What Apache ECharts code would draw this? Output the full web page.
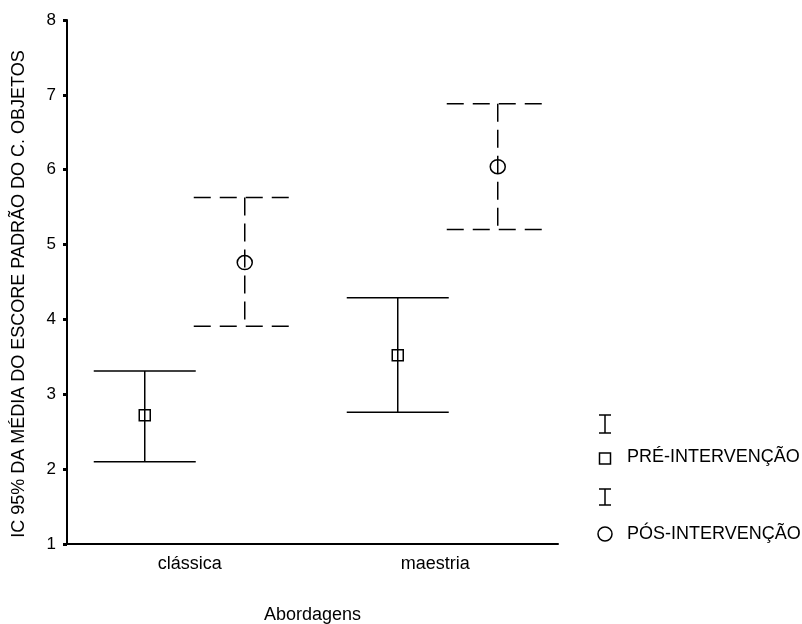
<!DOCTYPE html>
<html>
<head>
<meta charset="utf-8">
<script src="https://cdn.jsdelivr.net/npm/echarts@6/dist/echarts.min.js"></script>
<style>
  html, body { margin: 0; padding: 0; background: #fff; }
  #chart { width: 802px; height: 624px; }
</style>
</head>
<body>
<div id="chart"></div>
<script>
// Approaches compared
const categories = ['clássica', 'maestria'];

// 95% CI of the mean standardised score, before the intervention
const preMean = [2.72, 3.52];
const preLow  = [2.10, 2.76];
const preHigh = [3.31, 4.29];

// 95% CI of the mean standardised score, after the intervention
const posMean = [4.76, 6.04];
const posLow  = [3.91, 5.20];
const posHigh = [5.63, 6.88];

const yTicks = [1, 2, 3, 4, 5, 6, 7, 8];
const legendLabels = ['PRÉ-INTERVENÇÃO', 'PÓS-INTERVENÇÃO'];

const FONT = '"Liberation Sans", Arial, Helvetica, sans-serif';

function rows(mean, low, high) {
  return categories.map((c, i) => [i, mean[i], low[i], high[i]]);
}

// Error bar with a hollow marker on the mean; groups are dodged sideways
function errorBar(offset, dashed, marker) {
  return function (params, api) {
    const idx = api.value(0);
    const pm = api.coord([idx, api.value(1)]);
    const pl = api.coord([idx, api.value(2)]);
    const ph = api.coord([idx, api.value(3)]);
    const x = pm[0] + offset + idx * 7.5;
    const half = 51;
    const style = {
      stroke: '#000',
      lineWidth: 1.5,
      fill: null,
      lineDash: dashed ? [17, 9] : null
    };
    const vStyle = Object.assign({}, style, { lineDash: dashed ? [18, 8] : null });
    const children = [
      { type: 'line', shape: { x1: x, y1: ph[1], x2: x, y2: pl[1] }, style: vStyle },
      { type: 'line', shape: { x1: x - half, y1: ph[1], x2: x + half, y2: ph[1] }, style: style },
      { type: 'line', shape: { x1: x - half, y1: pl[1], x2: x + half, y2: pl[1] }, style: style }
    ];
    const mStyle = { stroke: '#000', lineWidth: 1.5, fill: 'rgba(0,0,0,0)' };
    if (marker === 'square') {
      children.push({ type: 'rect', shape: { x: x - 5.5, y: pm[1] - 5.5, width: 11, height: 11 }, style: mStyle });
    } else {
      children.push({ type: 'ellipse', shape: { cx: x, cy: pm[1], rx: 7.5, ry: 7 }, style: mStyle });
    }
    return { type: 'group', children: children };
  };
}

const chart = echarts.init(document.getElementById('chart'), null, { renderer: 'canvas' });

const legendX = 605;
function barIcon(yTop, yBot) {
  return [
    { type: 'line', shape: { x1: legendX, y1: yTop, x2: legendX, y2: yBot }, style: { stroke: '#000', lineWidth: 1.5 } },
    { type: 'line', shape: { x1: legendX - 6, y1: yTop, x2: legendX + 6, y2: yTop }, style: { stroke: '#000', lineWidth: 1.5 } },
    { type: 'line', shape: { x1: legendX - 6, y1: yBot, x2: legendX + 6, y2: yBot }, style: { stroke: '#000', lineWidth: 1.5 } }
  ];
}

chart.setOption({
  animation: false,
  backgroundColor: '#fff',
  grid: { left: 67, right: 244, top: 20, bottom: 80, containLabel: false, outerBoundsMode: 'none' },
  xAxis: {
    type: 'category',
    data: categories,
    boundaryGap: true,
    name: 'Abordagens',
    nameLocation: 'middle',
    nameGap: 62,
    nameTextStyle: { color: '#000', fontSize: 18, fontFamily: FONT },
    axisLine: { lineStyle: { color: '#000', width: 2 } },
    axisTick: { alignWithLabel: true, length: 4, lineStyle: { color: '#000', width: 3 } },
    axisLabel: { color: '#000', fontSize: 18, fontFamily: FONT, margin: 11 },
    splitLine: { show: false }
  },
  yAxis: {
    type: 'value',
    min: yTicks[0],
    max: yTicks[yTicks.length - 1],
    interval: 1,
    name: 'IC 95% DA MÉDIA DO ESCORE PADRÃO DO C. OBJETOS',
    nameLocation: 'middle',
    nameRotate: 90,
    nameGap: 39,
    nameTextStyle: { color: '#000', fontSize: 18, fontFamily: FONT, padding: [0, 24, 0, 0] },
    axisLine: { show: true, lineStyle: { color: '#000', width: 2 } },
    axisTick: { show: true, length: 4, lineStyle: { color: '#000', width: 3 } },
    axisLabel: { color: '#000', fontSize: 17, fontFamily: FONT, margin: 11 },
    splitLine: { show: false }
  },
  series: [
    {
      name: legendLabels[0],
      type: 'custom',
      renderItem: errorBar(-45, false, 'square'),
      encode: { x: 0, y: [1, 2, 3] },
      data: rows(preMean, preLow, preHigh)
    },
    {
      name: legendLabels[1],
      type: 'custom',
      renderItem: errorBar(55, true, 'circle'),
      encode: { x: 0, y: [1, 2, 3] },
      data: rows(posMean, posLow, posHigh)
    }
  ],
  graphic: [
    { type: 'group', children: barIcon(415, 433) },
    { type: 'rect', shape: { x: legendX - 5.5, y: 453, width: 11, height: 11 }, style: { stroke: '#000', lineWidth: 1.5, fill: 'rgba(0,0,0,0)' } },
    { type: 'text', left: 627, top: 448, style: { text: legendLabels[0], fill: '#000', font: '18px ' + FONT } },
    { type: 'group', children: barIcon(489, 505) },
    { type: 'circle', shape: { cx: legendX, cy: 534, r: 7 }, style: { stroke: '#000', lineWidth: 1.5, fill: 'rgba(0,0,0,0)' } },
    { type: 'text', left: 627, top: 525, style: { text: legendLabels[1], fill: '#000', font: '18px ' + FONT } }
  ]
});
</script>
</body>
</html>
